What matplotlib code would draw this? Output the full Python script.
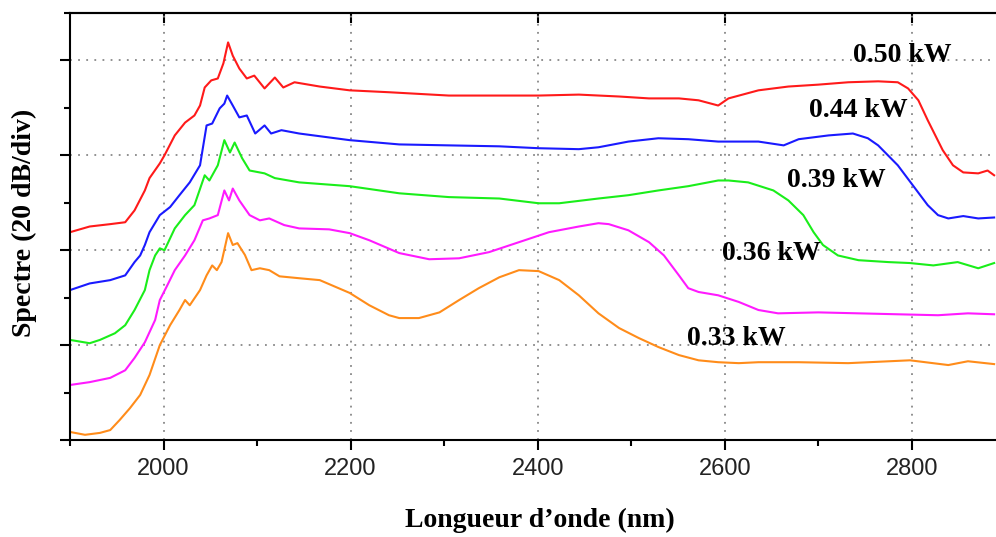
import numpy as np
import matplotlib
matplotlib.use('Agg')
from matplotlib import pyplot as plt
from matplotlib.ticker import MultipleLocator

# spectra (wavelength in nm, level in dB, offset per curve)
x_050 = [1900, 1921, 1943, 1959, 1969, 1980, 1985, 1996, 2001, 2012, 2023, 2033, 2039, 2044, 2051,
         2058, 2064, 2069, 2074, 2081, 2089, 2097, 2108, 2119, 2128, 2140, 2167, 2199, 2241, 2305,
         2359, 2401, 2444, 2487, 2519, 2551, 2572, 2593, 2604, 2636, 2668, 2700, 2732, 2764, 2785,
         2796, 2807, 2817, 2833, 2844, 2855, 2871, 2881, 2888]
y_050 = [43.8, 45.0, 45.5, 45.9, 48.4, 52.6, 55.2, 58.3, 60.0, 64.2, 66.9, 68.4, 70.5, 74.3, 75.8,
         76.2, 79.4, 83.8, 81.0, 78.3, 76.2, 76.8, 74.1, 76.4, 74.3, 75.4, 74.5, 73.7, 73.3, 72.6,
         72.6, 72.6, 72.8, 72.4, 72.0, 72.0, 71.6, 70.5, 72.0, 73.7, 74.5, 74.9, 75.4, 75.6, 75.4,
         74.1, 71.6, 67.4, 61.1, 57.9, 56.4, 56.2, 56.8, 55.8]

x_044 = [1900, 1921, 1943, 1959, 1969, 1975, 1980, 1985, 1996, 2007, 2017, 2028, 2039, 2046, 2052,
         2060, 2065, 2068, 2074, 2081, 2089, 2098, 2108, 2115, 2126, 2145, 2199, 2252, 2305, 2359,
         2401, 2444, 2465, 2497, 2529, 2561, 2593, 2636, 2663, 2679, 2711, 2737, 2753, 2764, 2785,
         2801, 2817, 2828, 2839, 2855, 2871, 2888]
y_044 = [31.6, 33.0, 33.7, 34.7, 37.5, 38.9, 41.1, 43.8, 47.4, 49.1, 51.6, 54.3, 57.9, 66.3, 66.7,
         69.9, 70.9, 72.6, 70.5, 68.0, 68.4, 64.6, 66.3, 64.6, 65.3, 64.6, 63.2, 62.3, 62.1, 61.9,
         61.5, 61.3, 61.7, 62.9, 63.6, 63.4, 62.9, 62.9, 62.1, 63.4, 64.2, 64.6, 63.6, 62.1, 57.9,
         53.7, 49.5, 47.4, 46.7, 47.2, 46.7, 46.9]

x_039 = [1900, 1921, 1932, 1948, 1959, 1969, 1980, 1985, 1991, 1996, 2001, 2012, 2023, 2033, 2044,
         2049, 2058, 2065, 2071, 2076, 2084, 2092, 2108, 2119, 2145, 2199, 2252, 2305, 2359, 2401,
         2423, 2465, 2497, 2529, 2561, 2593, 2604, 2625, 2652, 2668, 2684, 2695, 2705, 2721, 2743,
         2775, 2798, 2823, 2849, 2871, 2888]
y_039 = [21.1, 20.4, 21.1, 22.5, 24.2, 27.4, 31.6, 35.8, 38.9, 40.4, 40.0, 44.6, 47.4, 49.5, 55.8,
         54.7, 57.9, 63.2, 60.6, 62.7, 59.4, 56.8, 56.2, 55.2, 54.3, 53.5, 52.0, 51.2, 50.9, 49.9,
         49.9, 50.9, 51.6, 52.6, 53.5, 54.7, 54.7, 54.3, 52.6, 50.5, 47.4, 43.8, 41.1, 38.9, 37.9,
         37.5, 37.3, 36.8, 37.5, 36.2, 37.3]

x_036 = [1900, 1921, 1943, 1959, 1969, 1980, 1991, 1996, 2004, 2012, 2023, 2033, 2042, 2049, 2058,
         2065, 2070, 2074, 2081, 2092, 2103, 2113, 2129, 2145, 2177, 2199, 2220, 2252, 2284, 2316,
         2348, 2380, 2412, 2444, 2465, 2476, 2497, 2519, 2535, 2551, 2561, 2572, 2593, 2615, 2636,
         2657, 2700, 2743, 2785, 2828, 2860, 2888]
y_036 = [11.6, 12.2, 13.1, 14.7, 17.3, 20.6, 25.3, 29.5, 32.6, 35.8, 38.9, 42.1, 46.3, 46.7, 47.4,
         52.6, 50.5, 53.0, 50.5, 47.4, 46.3, 46.7, 45.3, 44.6, 44.4, 43.6, 42.1, 39.4, 38.1, 38.3,
         39.6, 41.7, 43.8, 45.0, 45.7, 45.5, 44.2, 41.7, 38.9, 34.7, 32.0, 31.2, 30.5, 29.1, 27.4,
         26.7, 26.9, 26.7, 26.5, 26.3, 26.7, 26.5]

x_033 = [1900, 1916, 1932, 1943, 1953, 1964, 1975, 1985, 1996, 2007, 2017, 2023, 2028, 2039, 2046,
         2052, 2057, 2062, 2069, 2074, 2079, 2087, 2094, 2103, 2113, 2124, 2145, 2167, 2199, 2220,
         2241, 2252, 2273, 2295, 2316, 2337, 2359, 2380, 2401, 2423, 2444, 2465, 2487, 2508, 2529,
         2551, 2572, 2593, 2615, 2636, 2679, 2732, 2798, 2839, 2860, 2888]
y_033 = [1.7, 1.1, 1.5, 2.1, 4.2, 6.7, 9.5, 13.7, 20.0, 24.2, 27.4, 29.5, 28.4, 31.6, 34.7,
         36.8, 35.8, 37.5, 43.6, 41.1, 41.5, 39.0, 35.8, 36.2, 35.8, 34.5, 34.1, 33.7, 31.0, 28.4,
         26.3, 25.7, 25.7, 26.9, 29.5, 32.0, 34.3, 35.8, 35.6, 33.7, 30.5, 26.7, 23.6, 21.5, 19.6,
         17.9, 16.8, 16.4, 16.2, 16.4, 16.4, 16.2, 16.8, 15.8, 16.6, 16.0]

labels = ['0.50 kW', '0.44 kW', '0.39 kW', '0.36 kW', '0.33 kW']
label_x = [2790, 2743, 2719, 2650, 2612]
label_y = [81.0, 69.5, 54.7, 39.4, 21.5]
colors = ['#ff1a1a', '#1a1aff', '#1aee1a', '#ff1aff', '#ff8c1a']

xs = [x_050, x_044, x_039, x_036, x_033]
ys = [y_050, y_044, y_039, y_036, y_033]

fig = plt.figure(figsize=(9.96, 5.37), dpi=100)
ax = fig.add_axes([0.0703, 0.1806, 0.9297, 0.7952])

for xx, yy, c in zip(xs, ys, colors):
    ax.plot(xx, yy, color=c, lw=1.5)

for lab, lx, ly in zip(labels, label_x, label_y):
    ax.text(lx, ly, lab, ha='center', va='center', fontsize=20, fontweight='bold',
            family='Liberation Serif')

ax.set_xlim(1900, 2890)
ax.set_ylim(0, 90)
ax.xaxis.set_major_locator(MultipleLocator(200))
ax.xaxis.set_minor_locator(MultipleLocator(100))
ax.yaxis.set_major_locator(MultipleLocator(20))
ax.yaxis.set_minor_locator(MultipleLocator(10))
ax.set_yticklabels([])
ax.tick_params(which='major', direction='out', length=7, width=1.5, labelsize=17, pad=6)
ax.tick_params(which='minor', direction='out', length=4, width=1.5)
for lbl in ax.get_xticklabels():
    lbl.set_family('Liberation Sans')
    lbl.set_color('#222222')

ax.grid(True, which='major', color='#888888', linestyle=(0, (1, 3.5)), lw=1.3)
ax.spines['right'].set_visible(False)
for s in ['left', 'bottom', 'top']:
    ax.spines[s].set_linewidth(1.5)

# inward ticks on the top edge
top = ax.secondary_xaxis('top')
top.xaxis.set_major_locator(MultipleLocator(200))
top.tick_params(direction='in', length=7, width=1.5, labeltop=False)
top.spines['top'].set_linewidth(1.5)

ax.set_ylabel('Spectre (20 dB/div)', fontsize=20, fontweight='bold', family='Liberation Serif')
ax.set_xlabel('Longueur d\u2019onde (nm)', fontsize=20, fontweight='bold', family='Liberation Serif')
ax.yaxis.set_label_coords(-0.036, 0.508)
ax.xaxis.set_label_coords(0.5076, -0.159)

fig.savefig('out.png', dpi=100)
